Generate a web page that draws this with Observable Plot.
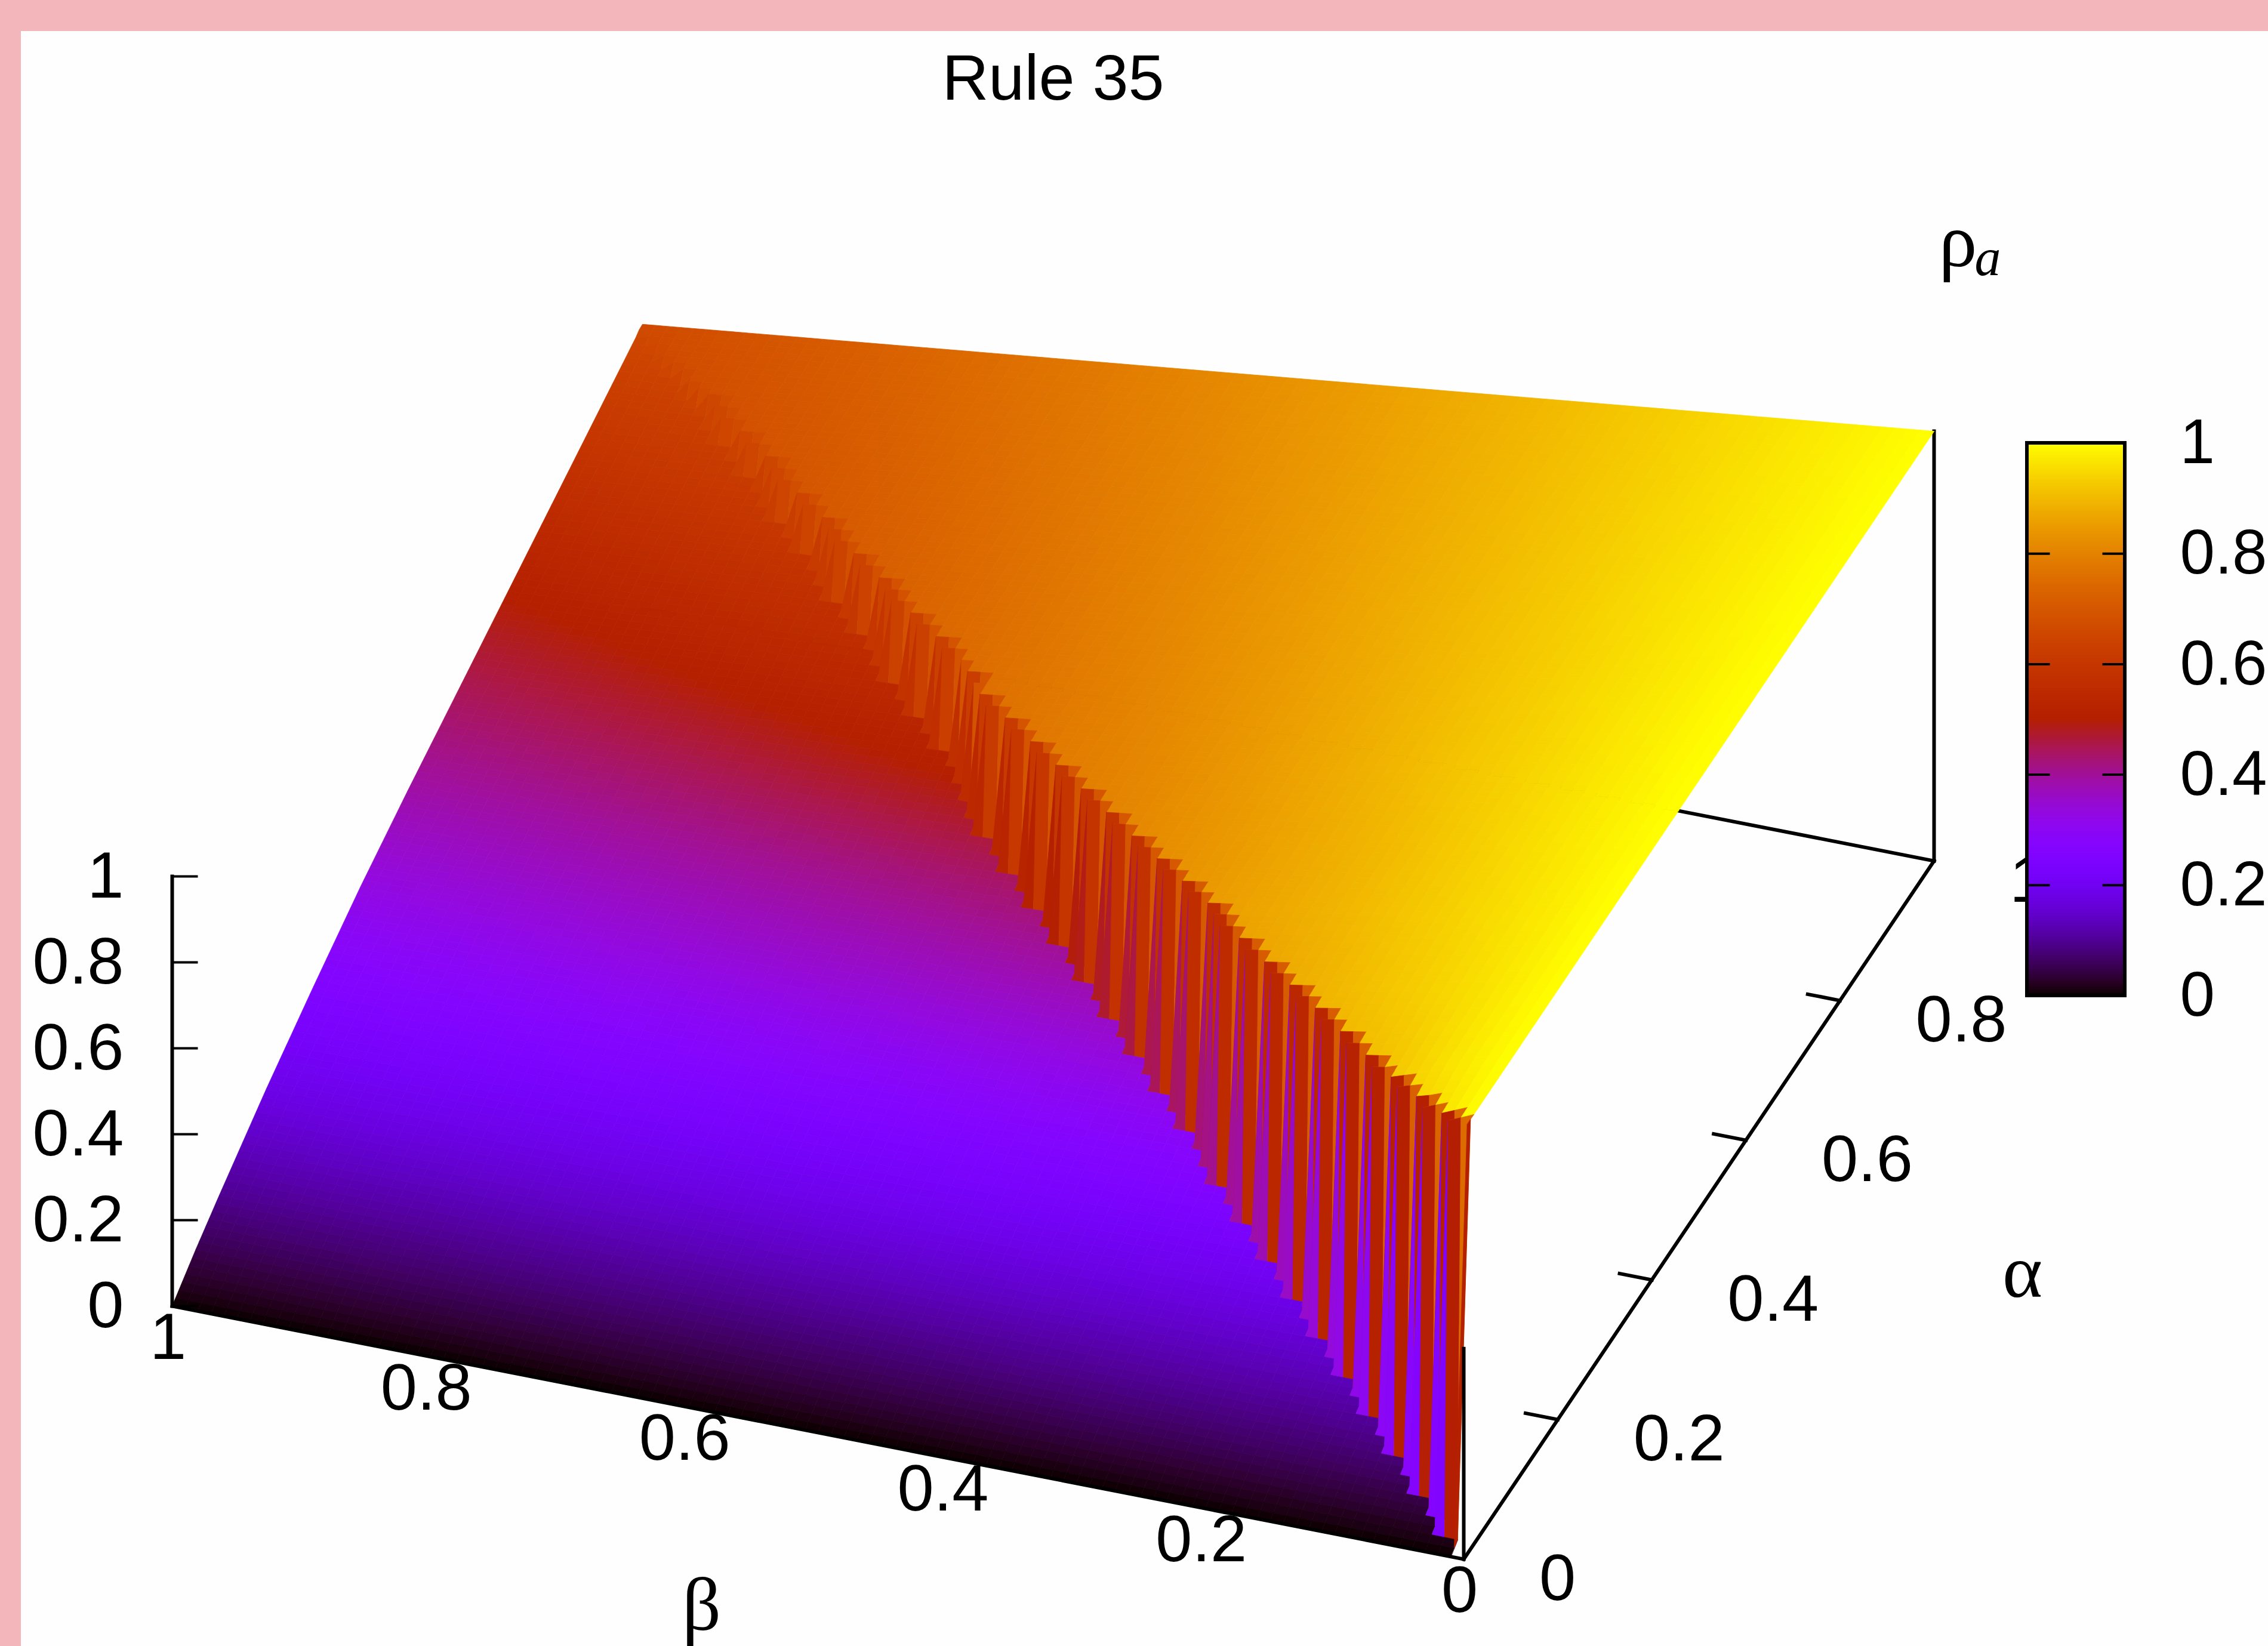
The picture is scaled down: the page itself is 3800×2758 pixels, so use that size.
<!DOCTYPE html>
<html><head><meta charset="utf-8">
<style>
html,body{margin:0;padding:0;background:#f3b6ba;overflow:hidden}
#panel{position:absolute;left:35px;top:52px;right:0;bottom:0;background:#fefefe}
svg{display:block;position:absolute;left:0;top:0}
</style>
<script src="https://cdn.jsdelivr.net/npm/d3@7"></script>
<script src="https://cdn.jsdelivr.net/npm/@observablehq/plot@0.6"></script>
</head><body>
<div id="panel"></div>
<script>
// ---- values ----
const title = "Rule 35";
const alphaTicks = [0, 0.2, 0.4, 0.6, 0.8, 1];
const betaTicks = [1, 0.8, 0.6, 0.4, 0.2, 0];
const rhoTicks = [0, 0.2, 0.4, 0.6, 0.8, 1];
const alphaKnots = [0, .05, .1, .2, .3, .4, .5, .6, .7, .8, .9, 1];
const betaKnots = [0, .05, .1, .2, .3, .4, .5, .6, .7, .8, .9, 1];
// surface height on the high-density sheet (small beta side), rows = alpha, columns = beta
const upperSheet = [
  [1, .93, .89, .84, .79, .75, .72, .69, .66, .63, .60, .57],
  [1, .94, .90, .85, .80, .76, .73, .70, .67, .64, .61, .58],
  [1, .96, .91, .86, .82, .78, .74, .71, .68, .65, .62, .59],
  [1, .965, .935, .88, .83, .79, .75, .72, .69, .66, .63, .60],
  [1, .97, .945, .895, .85, .80, .76, .73, .70, .67, .64, .61],
  [1, .975, .95, .90, .855, .81, .77, .74, .71, .67, .64, .61],
  [1, .978, .955, .91, .865, .82, .78, .74, .70, .67, .64, .61],
  [1, .98, .958, .915, .872, .83, .79, .75, .71, .67, .63, .59],
  [1, .98, .96, .92, .88, .84, .80, .76, .72, .68, .64, .60],
  [1, .981, .962, .924, .886, .848, .81, .772, .734, .696, .658, .62],
  [1, .982, .964, .928, .892, .856, .82, .784, .748, .712, .676, .64],
  [1, .983, .966, .932, .898, .864, .83, .796, .762, .728, .694, .66]
];
// surface height on the low-density sheet (large beta side)
const lowerSheet = [
  [0, 0, 0, 0, 0, 0, 0, 0, 0, 0, 0, 0],
  [.055, .055, .055, .054, .054, .053, .052, .052, .051, .051, .05, .05],
  [.105, .105, .105, .103, .102, .10, .10, .099, .098, .097, .096, .095],
  [.20, .20, .20, .197, .195, .192, .19, .188, .186, .184, .182, .18],
  [.29, .29, .29, .285, .28, .277, .274, .27, .268, .265, .26, .255],
  [.375, .375, .375, .37, .365, .36, .355, .35, .345, .34, .332, .325],
  [.45, .45, .45, .445, .44, .44, .435, .42, .41, .40, .39, .385],
  [.53, .53, .53, .53, .52, .52, .515, .51, .49, .47, .455, .44],
  [.60, .60, .60, .59, .58, .575, .57, .57, .56, .54, .515, .495],
  [.65, .65, .645, .64, .635, .63, .625, .62, .61, .60, .575, .55],
  [.69, .69, .685, .68, .675, .67, .665, .66, .655, .65, .63, .605],
  [.72, .72, .715, .71, .705, .70, .695, .69, .685, .68, .67, .66]
];
// last beta column (of 100) still on the upper sheet, per alpha row (of 140): the jagged wall
const wallColumn = [
  0,0,2,1,3,3,5,4,6,6,
  8,7,9,9,11,10,12,12,14,13,
  15,15,17,16,18,18,20,19,21,21,
  23,22,24,24,26,25,27,27,29,28,
  30,29,31,31,33,32,34,34,36,35,
  37,37,39,38,40,40,42,41,43,43,
  45,44,46,46,48,47,49,49,51,50,
  52,52,54,53,55,55,57,56,58,58,
  59,58,60,60,61,61,63,62,64,64,
  66,65,67,67,69,68,70,69,71,71,
  73,72,74,74,76,75,77,76,78,78,
  80,79,81,81,83,82,84,83,85,85,
  87,86,88,88,90,89,91,90,92,93,
  94,94,95,96,97,97,98,99,100,100
];

// ---- view of the box (gnuplot's orthographic projection) ----
const W = 3800, H = 2758;
const origin = [2452, 2612], alphaVec = [788, -1170], betaVec = [-2164, -424], rhoVec = 720;
const px = (a, b) => origin[0] + a * alphaVec[0] + b * betaVec[0];
const py = (a, b, r = 0) => origin[1] + a * alphaVec[1] + b * betaVec[1] - r * rhoVec;
const barX = [3396, 3560], barY = r => 1668 - r * 926;

const palette = t => {
  const c = v => Math.round(255 * Math.max(0, Math.min(1, v)));
  return `rgb(${c(Math.sqrt(t))},${c(t * t * t)},${c(Math.sin(2 * Math.PI * t))})`;
};

function sheetAt(sheet, a, b) {
  const i = Math.min(alphaKnots.length - 2, d3.bisectRight(alphaKnots, a) - 1);
  const j = Math.min(betaKnots.length - 2, d3.bisectRight(betaKnots, b) - 1);
  const u = (a - alphaKnots[i]) / (alphaKnots[i + 1] - alphaKnots[i]);
  const v = (b - betaKnots[j]) / (betaKnots[j + 1] - betaKnots[j]);
  return (1 - u) * ((1 - v) * sheet[i][j] + v * sheet[i][j + 1]) + u * ((1 - v) * sheet[i + 1][j] + v * sheet[i + 1][j + 1]);
}
const nRows = wallColumn.length, nCols = 100;
const node = (i, j) => {
  const a = i / nRows, b = j / nCols;
  const r = sheetAt(i > 0 && j <= wallColumn[i - 1] ? upperSheet : lowerSheet, a, b);
  return {a, b, r};
};
const cells = [];
for (let i = nRows - 1; i >= 0; --i) {
  for (let j = nCols - 1; j >= (i === 0 ? 1 : 0); --j) {
    const q = [node(i, j), node(i, j + 1), node(i + 1, j + 1), node(i + 1, j)];
    const ring = q.map(n => [px(n.a, n.b), py(n.a, n.b, n.r)]);
    ring.push(ring[0]);
    cells.push({polygon: {type: "Polygon", coordinates: [ring]}, rho: d3.mean(q, n => n.r)});
  }
}
const levels = d3.range(0, 1, 0.002);
const seg = (a1, b1, r1, a2, b2, r2) => ({x1: px(a1, b1), y1: py(a1, b1, r1), x2: px(a2, b2), y2: py(a2, b2, r2)});
const sans = "Liberation Sans, Helvetica, Arial, sans-serif", serif = "Liberation Serif, Times New Roman, serif";
const link = (d, w = 6) => Plot.link(d, {x1: "x1", y1: "y1", x2: "x2", y2: "y2", stroke: "#000", strokeWidth: w, strokeLinecap: "square"});

const backLines = [
  seg(0, 0, 0, 1, 0, 0),
  seg(1, 0, 0, 1, 1, 0),
  seg(1, 0, 0, 1, 0, 1),
  ...alphaTicks.slice(1, 5).map(a => seg(a, 0, 0, a, 0.025, 0))
];
const frontLines = [
  seg(0, 1, 0, 0, 1, 1),
  seg(0, 1, 0, 0, 0, 0),
  seg(0, 0, 0, 0, 0, 0.49)
];
const rhoTickLines = rhoTicks.map(r => ({x1: px(0, 1), x2: px(0, 1) + 41, y1: py(0, 1, r), y2: py(0, 1, r)}));
const barTicks = rhoTicks.slice(1, 5).flatMap(r => [
  {x1: barX[0], x2: barX[0] + 36, y1: barY(r), y2: barY(r)},
  {x1: barX[1] - 36, x2: barX[1], y1: barY(r), y2: barY(r)}
]);
const fmt = d => String(d);

const chart = Plot.plot({
  width: W, height: H,
  margin: 0,
  x: {domain: [0, W], range: [0, W], axis: null},
  y: {domain: [0, H], range: [0, H], axis: null},
  color: {type: "linear", domain: [0, 1], interpolate: palette},
  style: {background: "none"},
  marks: [
    link(backLines),
    Plot.geo(cells, {geometry: d => d.polygon, fill: "rho", stroke: "rho", strokeWidth: 0.8}),
    link(frontLines),
    link(rhoTickLines, 4),
    // alpha labels (the last is overdrawn by the colour box)
    Plot.text(alphaTicks, {x: a => px(a, -0.0585), y: a => py(a, -0.0585) + 8, text: fmt, textAnchor: "start", lineAnchor: "middle", fontFamily: sans, fontSize: 110, fill: "#000"}),
    Plot.text(betaTicks, {x: b => px(0, b) - 7, y: b => py(0, b) + 53, text: fmt, textAnchor: "middle", lineAnchor: "middle", fontFamily: sans, fontSize: 110, fill: "#000"}),
    Plot.text(rhoTicks, {x: () => 207, y: r => py(0, 1, r), text: fmt, textAnchor: "end", lineAnchor: "middle", fontFamily: sans, fontSize: 110, fill: "#000"}),
    // colour box
    Plot.rect(levels, {x1: () => barX[0], x2: () => barX[1], y1: r => barY(r), y2: r => barY(r + 0.004), fill: r => r}),
    Plot.rect([0], {x1: () => barX[0], x2: () => barX[1], y1: () => barY(0), y2: () => barY(1), stroke: "#000", strokeWidth: 6, fill: "none"}),
    link(barTicks, 4),
    Plot.text(rhoTicks, {x: () => 3652, y: r => barY(r), text: fmt, textAnchor: "start", lineAnchor: "middle", fontFamily: sans, fontSize: 105, fill: "#000"}),
    // titles
    Plot.text([title], {x: () => 1764, y: () => 132, text: d => d, textAnchor: "middle", lineAnchor: "middle", fontFamily: sans, fontSize: 108, fill: "#000"}),
    Plot.text(["β"], {x: () => 1175, y: () => 2690, text: d => d, textAnchor: "middle", lineAnchor: "middle", fontFamily: serif, fontSize: 128, fill: "#000"}),
    Plot.text(["α"], {x: () => 3388, y: () => 2132, text: d => d, textAnchor: "middle", lineAnchor: "middle", fontFamily: serif, fontSize: 128, fill: "#000"}),
    Plot.text(["ρ"], {x: () => 3280, y: () => 405, text: d => d, textAnchor: "middle", lineAnchor: "middle", fontFamily: serif, fontSize: 128, fill: "#000"}),
    Plot.text(["a"], {x: () => 3330, y: () => 432, text: d => d, textAnchor: "middle", lineAnchor: "middle", fontFamily: serif, fontStyle: "italic", fontSize: 88, fill: "#000"})
  ]
});
document.body.appendChild(chart);
</script>
</body></html>
